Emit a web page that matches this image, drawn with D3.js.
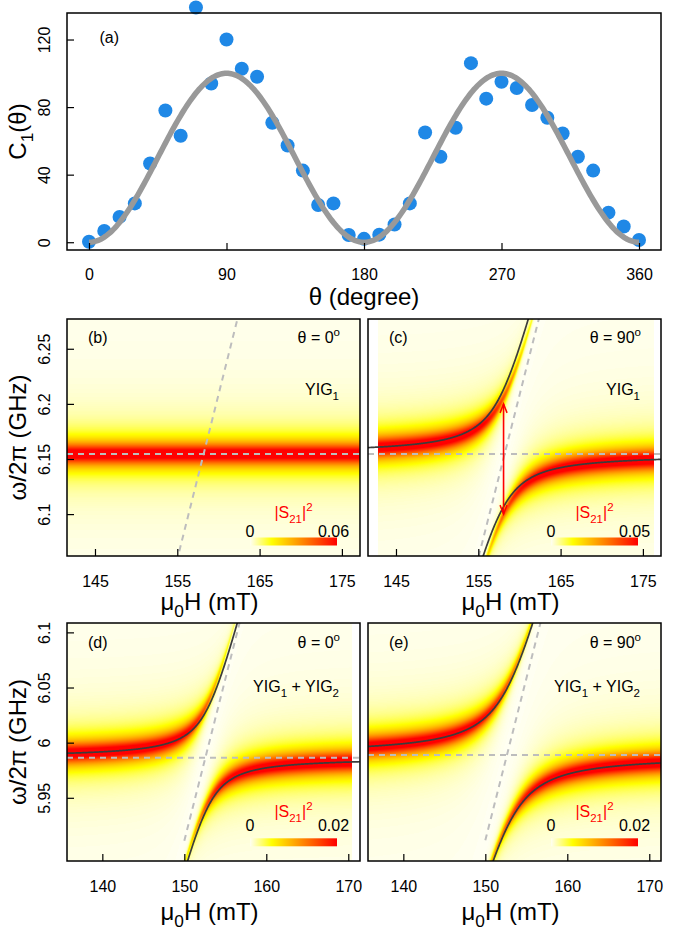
<!DOCTYPE html>
<html>
<head>
<meta charset="utf-8">
<script src="https://cdn.jsdelivr.net/npm/d3@7"></script>
<style>
  body { margin: 0; background: #fff; }
  svg { display: block; }
</style>
</head>
<body>
<div id="figure"></div>
<script>
// 1: DATA
// panel (a): measured C1 vs angle and the fit amplitude
const thetaDeg = [0, 10, 20, 30, 40, 50, 60, 70, 80, 90, 100, 110, 120, 130, 140, 150, 160, 170, 180,
                  190, 200, 210, 220, 230, 240, 250, 260, 270, 280, 290, 300, 310, 320, 330, 340, 350, 360];
const c1Values = [0.3, 6.7, 15, 23, 46.6, 78, 63, 139, 94, 120, 102.7, 98, 70.7, 57.3, 42.4, 22, 23, 4.3, 2,
                  4.5, 10.5, 23, 65, 50.6, 67.8, 106, 85, 95, 91.3, 81.2, 73.7, 64.4, 50.6, 42.4, 17.5, 9.3, 1.3];
const fitAmplitude = 100;
const thetaTicks = [0, 90, 180, 270, 360];
const c1Ticks = [0, 40, 80, 120];

// panels (b)-(e)
const panelNames = ["(b)", "(c)", "(d)", "(e)"];
const panelTheta = ["0", "90", "0", "90"];
const panelSamples = ["YIG_{1}", "YIG_{1}", "YIG_{1} + YIG_{2}", "YIG_{1} + YIG_{2}"];
const legendMax = ["0.06", "0.05", "0.02", "0.02"];
const cavityFreq = [6.1545, 6.1545, 5.9864, 5.9888];   // GHz, dashed horizontal
const crossField = [158.2, 158.2, 152.57, 152.64];     // mT, dashed magnon line crossing
const magnonSlope = [0.0298, 0.0295, 0.0293, 0.0293];  // GHz per mT
const magnonStart = [null, null, 150, 150];            // mT, where dashed magnon line starts
const couplingG = [0, 0.053, 0.045, 0.063];            // GHz
const fitCrossField = [null, 157.7, 152.86, 152.83];   // mT, used by the solid dispersion curves
const kappa = [0.0095, 0.0095, 0.0095, 0.0095];        // GHz, cavity linewidth
const gammaM = [0.0025, 0.0025, 0.0025, 0.0025];       // GHz, magnon linewidth
const heatFieldRange = [[141.6, 177.2], [142.8, 176.3], [135.7, 170.4], [135.7, 171.5]];
const fieldDomains = [[141.6, 177.2], [141.6, 177.2], [135.69, 171.43], [135.69, 171.43]];
const freqDomains = [[6.062, 6.277], [6.062, 6.277], [5.8927, 6.1085], [5.8927, 6.1085]];
const fieldTicks = [[145, 155, 165, 175], [145, 155, 165, 175], [140, 150, 160, 170], [140, 150, 160, 170]];
const freqTicks = [[6.1, 6.15, 6.2, 6.25], null, [5.95, 6, 6.05, 6.1], null];
const arrowField = 158.07;
const arrowFreqs = [6.1, 6.2];

// 2: LAYOUT
const FONT = "'Liberation Sans', Arial, Helvetica, sans-serif";
const W = 675, H = 930;
const boxA = { x0: 67, x1: 661, y0: 13, y1: 250 };
const panelBoxes = [
  { x0: 67, x1: 360, y0: 319, y1: 556 },
  { x0: 368, x1: 661, y0: 319, y1: 556 },
  { x0: 67, x1: 360, y0: 623, y1: 861 },
  { x0: 368, x1: 661, y0: 623, y1: 861 }
];
// legend offsets from the frame bottom (top row / bottom row differ in the original)
const legendRows = [
  { sLabel: -38, nums: -19.5, bar: -18.5, yig: 76, top: 24 },
  { sLabel: -44, nums: -30, bar: -22.7, yig: 69, top: 25 }
];

const svg = d3.select("#figure").append("svg")
  .attr("width", W).attr("height", H)
  .attr("font-family", FONT);

const defs = svg.append("defs");

// small markup: _{sub} and ^{sup}
function rich(textSel, str, fs) {
  const parts = str.split(/(_\{[^}]*\}|\^\{[^}]*\})/).filter(s => s.length);
  let off = 0;
  parts.forEach(p => {
    let t = p, target = 0, small = false;
    if (p.startsWith("_{")) { t = p.slice(2, -1); target = fs * 0.3; small = true; }
    else if (p.startsWith("^{")) { t = p.slice(2, -1); target = -fs * 0.42; small = true; }
    textSel.append("tspan")
      .attr("dy", target - off)
      .attr("font-size", small ? fs * 0.72 : fs)
      .text(t);
    off = target;
  });
  return textSel;
}

function styleAxis(g) {
  g.attr("font-family", FONT).attr("font-size", 16);
  g.select(".domain").remove();
  g.selectAll(".tick line").attr("stroke", "#000").attr("stroke-width", 1.2);
  g.selectAll(".tick text").attr("fill", "#000");
}

function xAxis(g, scale, ticks, y, pad) {
  const a = g.append("g")
    .attr("transform", `translate(0,${y})`)
    .call(d3.axisBottom(scale).tickValues(ticks).tickSize(-7).tickPadding(pad).tickFormat(d => String(d)));
  styleAxis(a);
}

function yAxis(g, scale, ticks, x) {
  const a = g.append("g")
    .attr("transform", `translate(${x},0)`)
    .call(d3.axisLeft(scale).tickValues(ticks).tickSize(-7).tickFormat(d => String(d)));
  styleAxis(a);
  a.selectAll(".tick text")
    .attr("transform", "rotate(-90)")
    .attr("x", 0).attr("y", -17.5).attr("dy", 0)
    .attr("text-anchor", "middle");
}

// 3: PANEL (a)
const xA = d3.scaleLinear().domain([-14.4, 374.4]).range([boxA.x0, boxA.x1]);
const yA = d3.scaleLinear().domain([-4.6, 135.7]).range([boxA.y1, boxA.y0]);
const gA = svg.append("g");

gA.selectAll("circle")
  .data(thetaDeg.map((t, i) => ({ t, v: c1Values[i] })))
  .join("circle")
  .attr("cx", d => xA(d.t))
  .attr("cy", d => yA(d.v))
  .attr("r", 7)
  .attr("fill", "#1f88e6");

const fitLine = d3.line()
  .x(d => xA(d))
  .y(d => yA(fitAmplitude * Math.sin(d * Math.PI / 180) ** 2));
gA.append("path")
  .datum(d3.range(0, 360.5, 1))
  .attr("d", fitLine)
  .attr("fill", "none")
  .attr("stroke", "#999999")
  .attr("stroke-width", 5.5);

xAxis(gA, xA, thetaTicks, boxA.y1, 18.5);
yAxis(gA, yA, c1Ticks, boxA.x0);

gA.append("rect")
  .attr("x", boxA.x0).attr("y", boxA.y0)
  .attr("width", boxA.x1 - boxA.x0).attr("height", boxA.y1 - boxA.y0)
  .attr("fill", "none").attr("stroke", "#000").attr("stroke-width", 1.5);

gA.append("text").attr("x", 99.5).attr("y", 43).attr("font-size", 16).text("(a)");
gA.append("text").attr("x", (boxA.x0 + boxA.x1) / 2).attr("y", 305)
  .attr("text-anchor", "middle").attr("font-size", 24).text("θ (degree)");
rich(gA.append("text")
  .attr("transform", `translate(26,${(boxA.y0 + boxA.y1) / 2}) rotate(-90)`)
  .attr("text-anchor", "middle"), "C_{1}(θ)", 24);

// 4: HEATMAP PANELS
const heatColor = d3.scaleLinear()
  .domain([0, 0.25, 1])
  .range(["#fffff2", "#ffff00", "#ff0000"])
  .clamp(true);
const lut = d3.range(256).map(k => d3.rgb(heatColor(k / 255)));
const colorGain = 1.15;

function transmission(w, wc, wm, g, k, gm) {
  const a = w - wc, b = w - wm;
  const den = gm * gm + b * b;
  const re = -k - g * g * gm / den;
  const im = a - g * g * b / den;
  return k * k / (re * re + im * im);
}

function branches(field, i) {
  const wc = cavityFreq[i];
  const wm = wc + magnonSlope[i] * (field - fitCrossField[i]);
  const mid = (wc + wm) / 2;
  const half = Math.sqrt(((wc - wm) / 2) ** 2 + couplingG[i] ** 2);
  return [mid + half, mid - half];
}

// legend gradient
const grad = defs.append("linearGradient").attr("id", "heatGrad");
d3.range(0, 1.001, 0.05).forEach(t => {
  grad.append("stop").attr("offset", t).attr("stop-color", heatColor(t));
});

// arrowhead marker
defs.append("marker")
  .attr("id", "redHead")
  .attr("viewBox", "-11 -6 13 12")
  .attr("refX", 0).attr("refY", 0)
  .attr("markerWidth", 13).attr("markerHeight", 12)
  .attr("markerUnits", "userSpaceOnUse")
  .attr("orient", "auto-start-reverse")
  .append("path")
  .attr("d", "M-9,-3.5L0,0L-9,3.5")
  .attr("fill", "none").attr("stroke", "#ff0000").attr("stroke-width", 1.5);

panelBoxes.forEach((box, i) => {
  const row = i < 2 ? 0 : 1;
  const lay = legendRows[row];
  const xs = d3.scaleLinear().domain(fieldDomains[i]).range([box.x0, box.x1]);
  const ys = d3.scaleLinear().domain(freqDomains[i]).range([box.y1, box.y0]);
  const g = svg.append("g");
  const w = box.x1 - box.x0, h = box.y1 - box.y0;

  defs.append("clipPath").attr("id", `clip${i}`)
    .append("rect").attr("x", box.x0).attr("y", box.y0).attr("width", w).attr("height", h);

  // heatmap raster
  const canvas = document.createElement("canvas");
  canvas.width = w; canvas.height = h;
  const ctx = canvas.getContext("2d");
  const img = ctx.createImageData(w, h);
  for (let px = 0; px < w; px++) {
    const field = xs.invert(box.x0 + px + 0.5);
    if (field < heatFieldRange[i][0] || field > heatFieldRange[i][1]) continue;
    const wm = cavityFreq[i] + magnonSlope[i] * (field - crossField[i]);
    for (let py = 0; py < h; py++) {
      const f = ys.invert(box.y0 + py + 0.5);
      const v = transmission(f, cavityFreq[i], wm, couplingG[i], kappa[i], gammaM[i]);
      const c = lut[Math.round(Math.min(1, v * colorGain) * 255)];
      const o = (py * w + px) * 4;
      img.data[o] = c.r; img.data[o + 1] = c.g; img.data[o + 2] = c.b; img.data[o + 3] = 255;
    }
  }
  ctx.putImageData(img, 0, 0);
  g.append("image")
    .attr("x", box.x0).attr("y", box.y0)
    .attr("width", w).attr("height", h)
    .attr("preserveAspectRatio", "none")
    .attr("href", canvas.toDataURL("image/png"));

  const inner = g.append("g").attr("clip-path", `url(#clip${i})`);

  // dashed cavity and magnon lines
  inner.append("line")
    .attr("x1", box.x0).attr("x2", box.x1)
    .attr("y1", ys(cavityFreq[i])).attr("y2", ys(cavityFreq[i]))
    .attr("stroke", "#bdbdbd").attr("stroke-width", 2).attr("stroke-dasharray", "6,5");
  const hs = magnonStart[i] !== null ? magnonStart[i] : fieldDomains[i][0];
  const he = fieldDomains[i][1];
  const wmAt = fld => cavityFreq[i] + magnonSlope[i] * (fld - crossField[i]);
  inner.append("line")
    .attr("x1", xs(hs)).attr("y1", ys(wmAt(hs)))
    .attr("x2", xs(he)).attr("y2", ys(wmAt(he)))
    .attr("stroke", "#bdbdbd").attr("stroke-width", 2).attr("stroke-dasharray", "6,5");

  // solid dispersion curves
  if (couplingG[i] > 0) {
    const fields = d3.range(fieldDomains[i][0], fieldDomains[i][1] + 0.01, 0.05);
    [0, 1].forEach(b => {
      inner.append("path")
        .datum(fields)
        .attr("d", d3.line().x(d => xs(d)).y(d => ys(branches(d, i)[b])))
        .attr("fill", "none").attr("stroke", "#3c3c3c").attr("stroke-width", 1.7);
    });
  }

  // red double arrow in (c)
  if (i === 1) {
    g.append("line")
      .attr("x1", xs(arrowField)).attr("x2", xs(arrowField))
      .attr("y1", ys(arrowFreqs[0])).attr("y2", ys(arrowFreqs[1]))
      .attr("stroke", "#ff0000").attr("stroke-width", 1.6)
      .attr("marker-start", "url(#redHead)").attr("marker-end", "url(#redHead)");
  }

  // texts
  g.append("text").attr("x", box.x0 + 21).attr("y", box.y0 + lay.top)
    .attr("font-size", 16).text(panelNames[i]);
  rich(g.append("text").attr("x", box.x1 - 20).attr("y", box.y0 + lay.top)
    .attr("text-anchor", "end"), `θ = ${panelTheta[i]}^{o}`, 16);
  rich(g.append("text").attr("x", box.x1 - 21).attr("y", box.y0 + lay.yig)
    .attr("text-anchor", "end"), panelSamples[i], 16);

  // colour legend
  const bx0 = box.x0 + 183, bx1 = box.x0 + 270;
  rich(g.append("text").attr("x", (bx0 + bx1) / 2).attr("y", box.y1 + lay.sLabel)
    .attr("text-anchor", "middle").attr("fill", "#ff0000"), "|S_{21}|^{2}", 16);
  g.append("rect")
    .attr("x", bx0).attr("y", box.y1 + lay.bar)
    .attr("width", bx1 - bx0).attr("height", 8)
    .attr("fill", "url(#heatGrad)");
  g.append("text").attr("x", bx0).attr("y", box.y1 + lay.nums)
    .attr("text-anchor", "middle").attr("font-size", 16).text("0");
  g.append("text").attr("x", bx1 - 3.5).attr("y", box.y1 + lay.nums)
    .attr("text-anchor", "middle").attr("font-size", 16).text(legendMax[i]);

  // axes and frame
  xAxis(g, xs, fieldTicks[i], box.y1, 20);
  if (freqTicks[i]) yAxis(g, ys, freqTicks[i], box.x0);
  g.append("rect")
    .attr("x", box.x0).attr("y", box.y0).attr("width", w).attr("height", h)
    .attr("fill", "none").attr("stroke", "#000").attr("stroke-width", 1.5);

  // axis labels
  rich(g.append("text")
    .attr("x", (box.x0 + box.x1) / 2 - 4).attr("y", row === 0 ? 610 : 920)
    .attr("text-anchor", "middle"), "μ_{0}H (mT)", 24);
  if (freqTicks[i]) {
    g.append("text")
      .attr("transform", `translate(26,${(box.y0 + box.y1) / 2}) rotate(-90)`)
      .attr("text-anchor", "middle").attr("font-size", 24)
      .text("ω/2π (GHz)");
  }
});
</script>
</body>
</html>
